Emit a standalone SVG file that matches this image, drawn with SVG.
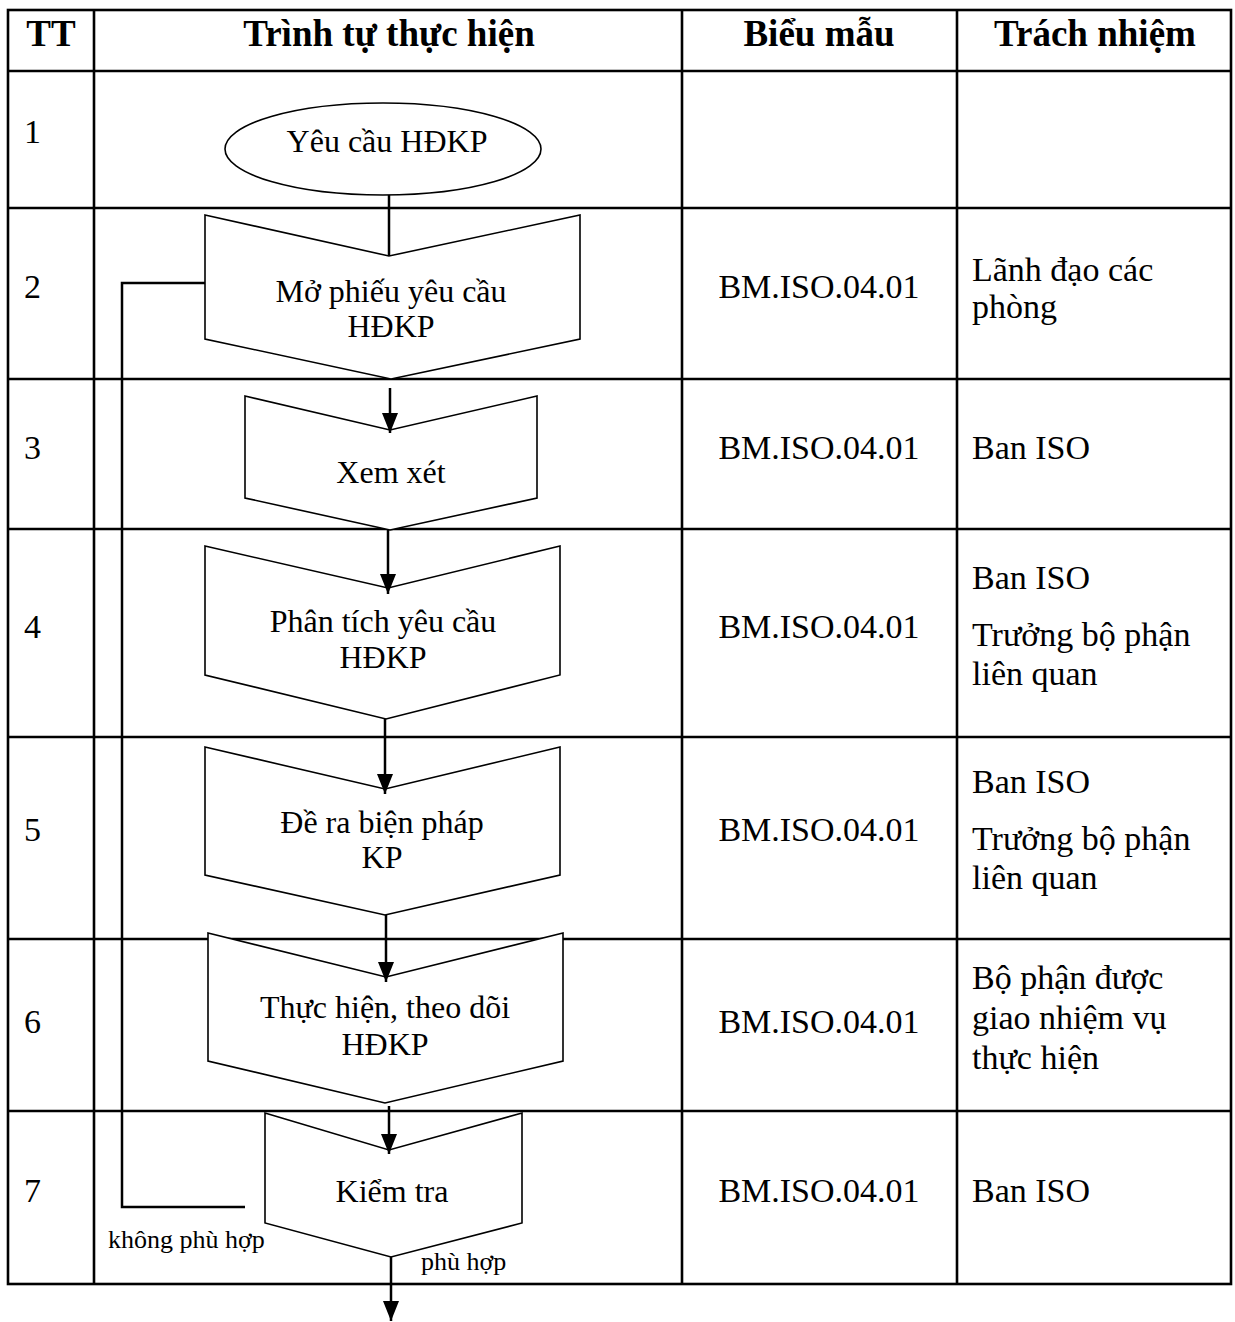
<svg xmlns="http://www.w3.org/2000/svg" width="1235" height="1322" viewBox="0 0 1235 1322">
<style>
text{font-family:"Liberation Serif","Times New Roman",serif;fill:#000}
.hd{font-size:37px;font-weight:bold;text-anchor:middle}
.bd{font-size:34px}
.bm{font-size:34px;text-anchor:middle}
.st{font-size:32px;text-anchor:middle}
.sm{font-size:26px}
.grid{stroke:#000;stroke-width:2.6;fill:none}
.shape{stroke:#000;stroke-width:1.6;fill:#fff}
.conn{stroke:#000;stroke-width:2.5;fill:none}
</style>
<defs>
<marker id="arr" viewBox="0 0 20 16" refX="20" refY="8" markerWidth="20" markerHeight="16" markerUnits="userSpaceOnUse" orient="auto">
<path d="M0,0 L20,8 L0,16 Z" fill="#000"/>
</marker>
</defs>
<rect width="1235" height="1322" fill="#fff"/>
<g id="table" class="grid">
<rect x="8" y="10" width="1223" height="1274"/>
<line x1="94" y1="10" x2="94" y2="1284"/>
<line x1="682" y1="10" x2="682" y2="1284"/>
<line x1="957" y1="10" x2="957" y2="1284"/>
<line x1="8" y1="71" x2="1231" y2="71"/>
<line x1="8" y1="208" x2="1231" y2="208"/>
<line x1="8" y1="379" x2="1231" y2="379"/>
<line x1="8" y1="529" x2="1231" y2="529"/>
<line x1="8" y1="737" x2="1231" y2="737"/>
<line x1="8" y1="939" x2="1231" y2="939"/>
<line x1="8" y1="1111" x2="1231" y2="1111"/>
</g>
<g id="header">
<text class="hd" x="51" y="46">TT</text>
<text class="hd" x="389" y="46">Trình tự thực hiện</text>
<text class="hd" x="819" y="46">Biểu mẫu</text>
<text class="hd" x="1095" y="46">Trách nhiệm</text>
</g>
<g id="rownums" class="bd">
<text x="24" y="143">1</text>
<text x="24" y="298">2</text>
<text x="24" y="459">3</text>
<text x="24" y="638">4</text>
<text x="24" y="841">5</text>
<text x="24" y="1033">6</text>
<text x="24" y="1202">7</text>
</g>
<g id="forms">
<text class="bm" x="819" y="298">BM.ISO.04.01</text>
<text class="bm" x="819" y="459">BM.ISO.04.01</text>
<text class="bm" x="819" y="638">BM.ISO.04.01</text>
<text class="bm" x="819" y="841">BM.ISO.04.01</text>
<text class="bm" x="819" y="1033">BM.ISO.04.01</text>
<text class="bm" x="819" y="1202">BM.ISO.04.01</text>
</g>
<g id="resp" class="bd">
<text x="972" y="281">Lãnh đạo các</text>
<text x="972" y="318">phòng</text>
<text x="972" y="459">Ban ISO</text>
<text x="972" y="589">Ban ISO</text>
<text x="972" y="646">Trưởng bộ phận</text>
<text x="972" y="685">liên quan</text>
<text x="972" y="793">Ban ISO</text>
<text x="972" y="850">Trưởng bộ phận</text>
<text x="972" y="889">liên quan</text>
<text x="972" y="989">Bộ phận được</text>
<text x="972" y="1029">giao nhiệm vụ</text>
<text x="972" y="1069">thực hiện</text>
<text x="972" y="1202">Ban ISO</text>
</g>
<g id="n1">
<ellipse class="shape" cx="383" cy="149" rx="158" ry="46"/>
<text class="st" x="387" y="152">Yêu cầu HĐKP</text>
</g>
<g id="n2">
<polygon class="shape" points="205,215 389,256 580,215 580,339 391,379 205,339"/>
<text class="st" x="391" y="302">Mở phiếu yêu cầu</text>
<text class="st" x="391" y="337">HĐKP</text>
</g>
<g id="n3">
<polygon class="shape" points="245,396 390,430 537,396 537,498 390,530 245,498"/>
<text class="st" x="391" y="483">Xem xét</text>
</g>
<g id="n4">
<polygon class="shape" points="205,546 388,588 560,546 560,675 386,719 205,675"/>
<text class="st" x="383" y="632">Phân tích yêu cầu</text>
<text class="st" x="383" y="668">HĐKP</text>
</g>
<g id="n5">
<polygon class="shape" points="205,747 385,789 560,747 560,875 385,915 205,875"/>
<text class="st" x="382" y="833">Đề ra biện pháp</text>
<text class="st" x="382" y="868">KP</text>
</g>
<g id="n6">
<polygon class="shape" points="208,933 386,977 563,933 563,1061 385,1103 208,1061"/>
<text class="st" x="385" y="1018">Thực hiện, theo dõi</text>
<text class="st" x="385" y="1055">HĐKP</text>
</g>
<g id="n7">
<polygon class="shape" points="265,1113 389,1150 522,1113 522,1223 391,1257 265,1223"/>
<text class="st" x="392" y="1202">Kiểm tra</text>
</g>
<g id="connectors" class="conn">
<line x1="389" y1="195" x2="389" y2="256"/>
<line x1="390" y1="388" x2="390" y2="433" marker-end="url(#arr)"/>
<line x1="388" y1="530" x2="388" y2="594" marker-end="url(#arr)"/>
<line x1="385" y1="719" x2="385" y2="794" marker-end="url(#arr)"/>
<line x1="386" y1="915" x2="386" y2="982" marker-end="url(#arr)"/>
<line x1="389" y1="1106" x2="389" y2="1154" marker-end="url(#arr)"/>
<line x1="391" y1="1257" x2="391" y2="1321" marker-end="url(#arr)"/>
<polyline points="245,1207 122,1207 122,283 205,283"/>
</g>
<g id="labels" class="sm">
<text x="108" y="1248">không phù hợp</text>
<text x="421" y="1270">phù hợp</text>
</g>
</svg>
